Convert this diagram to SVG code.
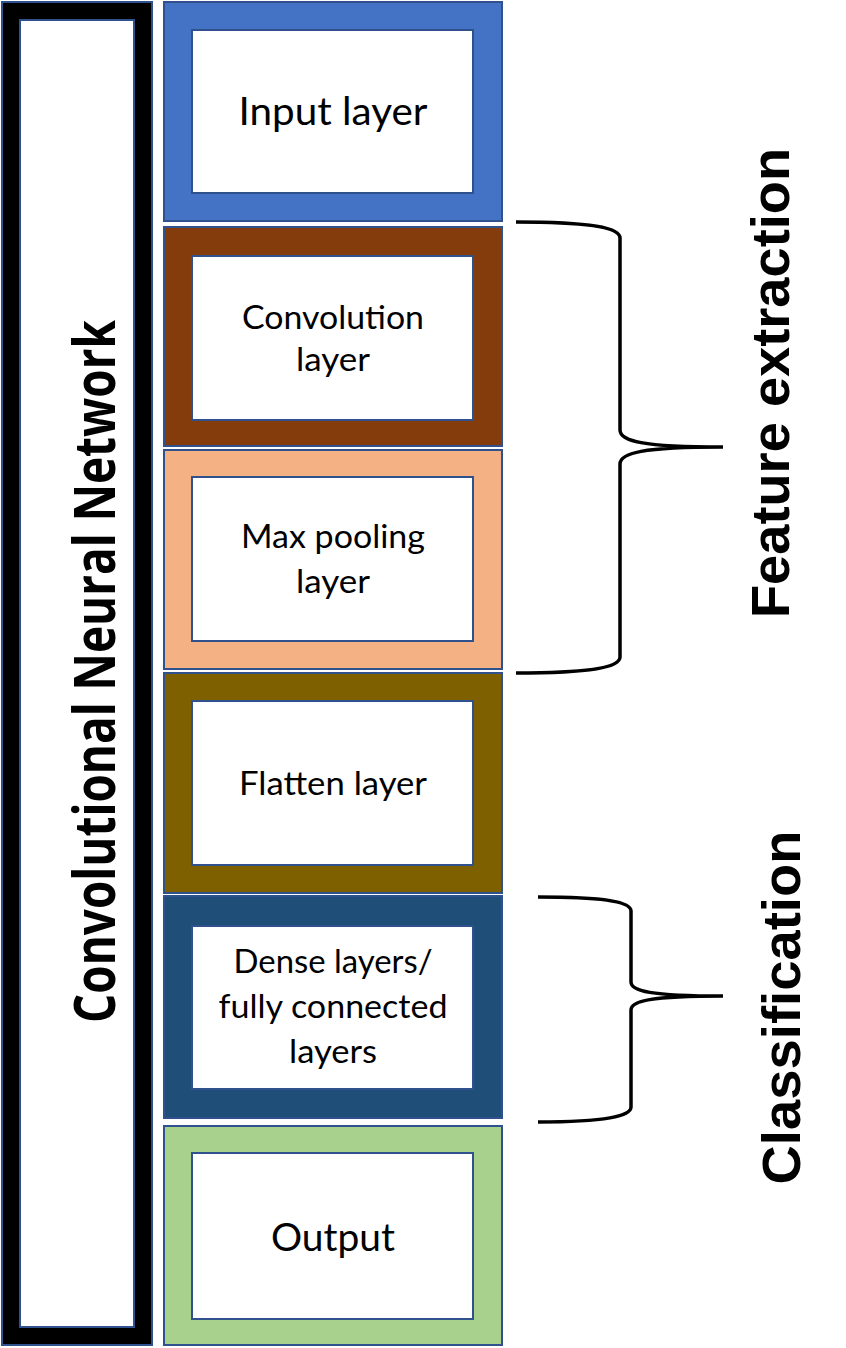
<svg xmlns="http://www.w3.org/2000/svg" width="846" height="1348" viewBox="0 0 846 1348">
<style>
.frame{stroke:#2F528F;stroke-width:2}
.inner{fill:#FFFFFF;stroke:#2F528F;stroke-width:2}
.lbl{font-family:Lato,"Open Sans","Liberation Sans",sans-serif;font-size:32.5px;fill:#000;text-anchor:middle}
.big{font-size:38px}
.title{font-family:"Open Sans","Liberation Sans",Arial,sans-serif;font-weight:700;font-size:57px;fill:#000;text-anchor:middle}
.side{font-family:"Liberation Sans",Arial,sans-serif;font-weight:bold;font-size:54px;fill:#000;text-anchor:middle}
.brace{fill:none;stroke:#000;stroke-width:3.5;stroke-linecap:butt}
</style>
<rect width="846" height="1348" fill="#FFFFFF"/>
<g id="cnn">
<rect x="2" y="2" width="150" height="1343" fill="#000000" class="frame"/>
<rect x="20" y="20" width="114" height="1307" class="inner"/>
<text transform="translate(115,671.5) rotate(-90)" class="title" textLength="703" lengthAdjust="spacingAndGlyphs">Convolutional Neural Network</text>
</g>
<g id="input">
<rect x="164" y="2" width="338" height="219" fill="#4472C4" class="frame"/>
<rect x="192" y="30" width="281" height="163" class="inner"/>
<text x="333" y="125" class="lbl big" textLength="189" lengthAdjust="spacingAndGlyphs">Input layer</text>
</g>
<g id="conv">
<rect x="164" y="227" width="338" height="219" fill="#843C0C" class="frame"/>
<rect x="192" y="256" width="281" height="164" class="inner"/>
<text x="333" y="329" class="lbl" textLength="182" lengthAdjust="spacingAndGlyphs">Convolution</text>
<text x="333" y="371" class="lbl" textLength="74" lengthAdjust="spacingAndGlyphs">layer</text>
</g>
<g id="maxpool">
<rect x="164" y="450" width="338" height="219" fill="#F4B183" class="frame"/>
<rect x="192" y="477" width="281" height="164" class="inner"/>
<text x="333" y="548" class="lbl" textLength="184" lengthAdjust="spacingAndGlyphs">Max pooling</text>
<text x="333" y="593" class="lbl" textLength="74" lengthAdjust="spacingAndGlyphs">layer</text>
</g>
<g id="flatten">
<rect x="164" y="673" width="338" height="220" fill="#7F6000" class="frame"/>
<rect x="192" y="701" width="281" height="164" class="inner"/>
<text x="333" y="795" class="lbl" textLength="188" lengthAdjust="spacingAndGlyphs">Flatten layer</text>
</g>
<g id="dense">
<rect x="164" y="896" width="338" height="222" fill="#1F4E79" class="frame"/>
<rect x="192" y="926" width="281" height="163" class="inner"/>
<text x="333" y="973" class="lbl" textLength="199" lengthAdjust="spacingAndGlyphs">Dense layers/</text>
<text x="333" y="1018" class="lbl" textLength="229" lengthAdjust="spacingAndGlyphs">fully connected</text>
<text x="333" y="1063" class="lbl" textLength="88" lengthAdjust="spacingAndGlyphs">layers</text>
</g>
<g id="output">
<rect x="164" y="1126" width="338" height="219" fill="#A9D18E" class="frame"/>
<rect x="192" y="1153" width="281" height="166" class="inner"/>
<text x="333" y="1251" class="lbl big" textLength="124" lengthAdjust="spacingAndGlyphs">Output</text>
</g>
<g id="connectors">
<path class="brace" d="M516,222 C592,222 620,228 620,238 L620,430 C620,441 642,447 723,447 M723,447 C642,447 620,453 620,464 L620,657 C620,667 592,673 516,673"/>
<path class="brace" d="M538,897 C606,897 631,902 631,911 L631,982 C631,991 650,996 723,996 M723,996 C650,996 631,1001 631,1010 L631,1107 C631,1116 606,1122 538,1122"/>
</g>
<g id="feature-extraction">
<text transform="translate(789,383) rotate(-90)" class="side" textLength="470" lengthAdjust="spacingAndGlyphs">Feature extraction</text>
</g>
<g id="classification">
<text transform="translate(800,1007.5) rotate(-90)" class="side" textLength="354" lengthAdjust="spacingAndGlyphs">Classification</text>
</g>
</svg>
